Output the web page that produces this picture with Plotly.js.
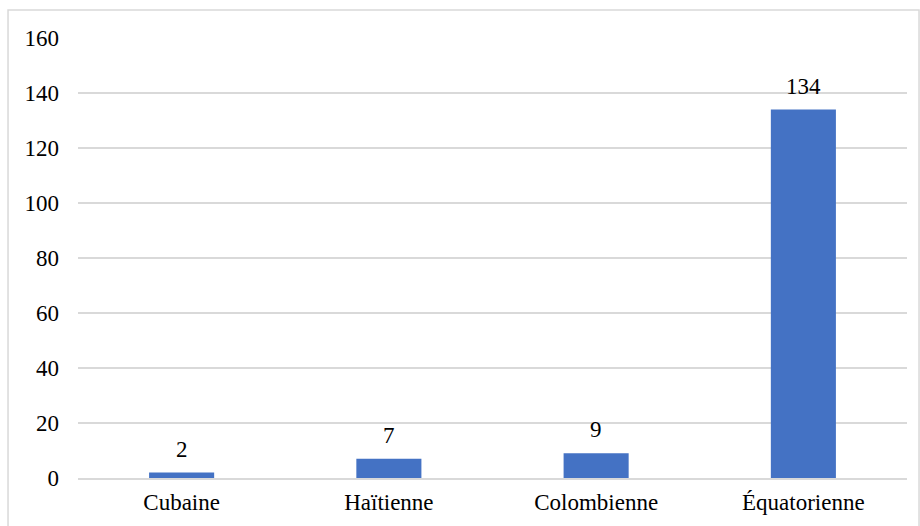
<!DOCTYPE html>
<html>
<head>
<meta charset="utf-8">
<script src="https://cdn.plot.ly/plotly-3.0.1.min.js"></script>
<style>html,body{margin:0;padding:0;background:#fff;}#chart{width:920px;height:526px;}</style>
</head>
<body>
<div id="chart"></div>
<script>
const categories = ["Cubaine", "Haïtienne", "Colombienne", "Équatorienne"];
const values = [2, 7, 9, 134];
const yTicks = [0, 20, 40, 60, 80, 100, 120, 140, 160];

const font = {family: "Liberation Serif, Times New Roman, serif", size: 23, color: "#000"};

Plotly.newPlot("chart", [{
  type: "bar",
  x: categories,
  y: values,
  marker: {color: "#4472C4"},
  hoverinfo: "none"
}], {
  width: 920, height: 526,
  margin: {l: 78, r: 13, t: 38, b: 48},
  paper_bgcolor: "#fff", plot_bgcolor: "#fff",
  bargap: 0.686,
  font: font,
  showlegend: false,
  xaxis: {
    showgrid: false, showline: true, linecolor: "#d9d9d9", linewidth: 1.5,
    ticks: "", tickfont: font, ticklabelstandoff: 3
  },
  yaxis: {
    range: [0, 160], tickvals: yTicks, showgrid: true, gridcolor: "#d9d9d9", gridwidth: 1.5,
    zeroline: false, showline: false, ticks: "", tickfont: font, ticklabelstandoff: 18
  },
  annotations: categories.map((c, i) => ({
    x: c, y: values[i], xref: "x", yref: "y", text: String(values[i]),
    showarrow: false, yanchor: "bottom", yshift: 9, font: font
  })),
  shapes: [{
    type: "rect", xref: "paper", yref: "paper",
    x0: -0.0844, x1: 1.0145, y0: -0.12, y1: 1.0636,
    line: {color: "#d9d9d9", width: 1.5}, fillcolor: "rgba(0,0,0,0)", layer: "below"
  }]
}, {displayModeBar: false, staticPlot: true});
</script>
</body>
</html>
